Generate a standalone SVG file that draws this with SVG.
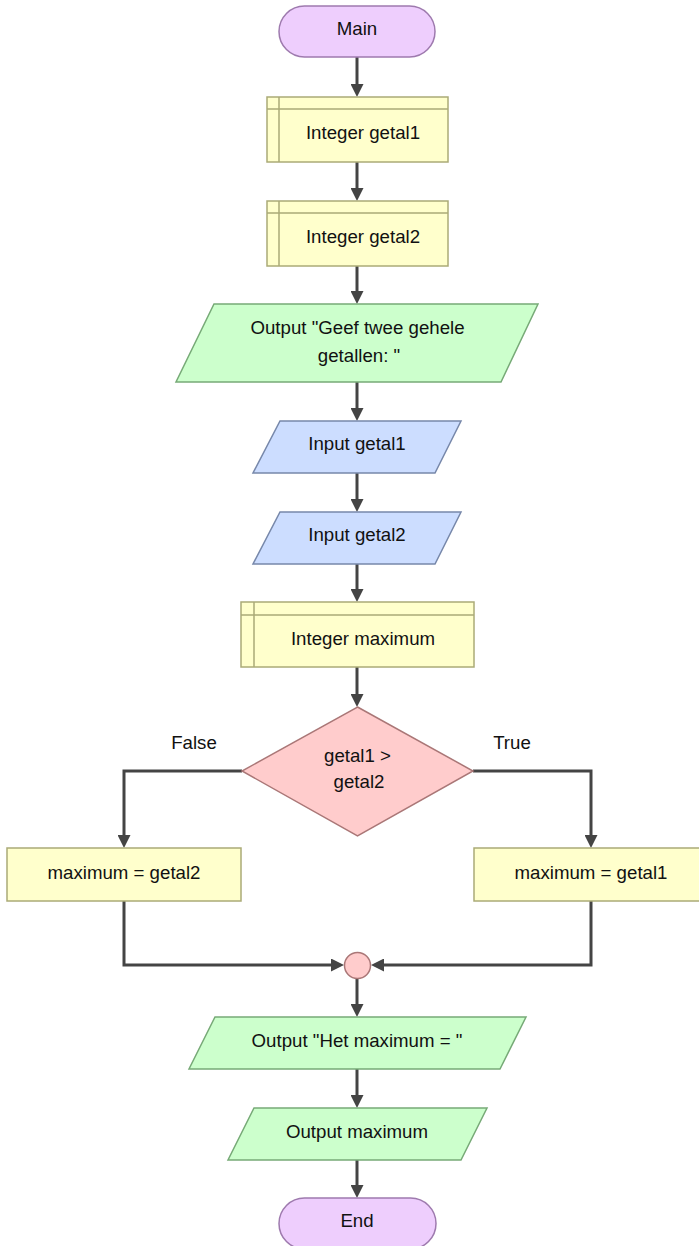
<svg xmlns="http://www.w3.org/2000/svg" width="699" height="1246" viewBox="0 0 699 1246">
<style>
  text { font-family: "Liberation Sans", Arial, sans-serif; font-size: 18.67px; fill: #111; text-anchor: middle; }
  .term { fill: #EECEFD; stroke: #9E7AAE; stroke-width: 1.5; }
  .decl { fill: #FFFFCC; stroke: #ABAB77; stroke-width: 1.5; }
  .assign { fill: #FFFFCC; stroke: #ABAB77; stroke-width: 1.5; }
  .out { fill: #CCFFCC; stroke: #77AA77; stroke-width: 1.5; }
  .in { fill: #CCDDFF; stroke: #7788AA; stroke-width: 1.5; }
  .dec { fill: #FFCCCC; stroke: #AA7777; stroke-width: 1.5; }
  .edge { fill: none; stroke: #444; stroke-width: 3; marker-end: url(#arrow); }
</style>
<defs>
  <marker id="arrow" markerUnits="userSpaceOnUse" viewBox="0 0 13 13" markerWidth="13" markerHeight="13" refX="3" refY="6.5" orient="auto">
    <path d="M0,0 L13,6.5 L0,13 z" fill="#444"/>
  </marker>
</defs>
<rect width="699" height="1246" fill="#fff"/>

<g id="connectors">
  <path class="edge" d="M357,57 V87"/>
  <path class="edge" d="M357,162 V191"/>
  <path class="edge" d="M357,266 V294"/>
  <path class="edge" d="M357,382 V411"/>
  <path class="edge" d="M357,473 V502"/>
  <path class="edge" d="M357,564 V592"/>
  <path class="edge" d="M357,667 V697"/>
  <path class="edge" d="M242,771 H124 V838"/>
  <path class="edge" d="M473,771 H591 V838"/>
  <path class="edge" d="M124,901 V965 H334"/>
  <path class="edge" d="M591,901 V965 H381"/>
  <path class="edge" d="M357,978 V1007"/>
  <path class="edge" d="M357,1069 V1098"/>
  <path class="edge" d="M357,1160 V1188"/>
  <text x="194" y="749">False</text>
  <text x="512" y="749">True</text>
</g>

<g id="main">
  <rect class="term" x="279" y="6" width="156" height="51" rx="25.5"/>
  <text x="357" y="35">Main</text>
</g>

<g id="decl-getal1">
  <rect class="decl" x="267" y="97" width="181" height="65"/>
  <path class="decl" d="M279,97 V162 M267,109 H448" fill="none"/>
  <text x="363" y="139">Integer getal1</text>
</g>

<g id="decl-getal2">
  <rect class="decl" x="267" y="201" width="181" height="65"/>
  <path class="decl" d="M279,201 V266 M267,213 H448" fill="none"/>
  <text x="363" y="243">Integer getal2</text>
</g>

<g id="output-prompt">
  <polygon class="out" points="214,304 538,304 501,382 176,382"/>
  <text x="357.5" y="334">Output "Geef twee gehele</text>
  <text x="359" y="362">getallen: "</text>
</g>

<g id="input-getal1">
  <polygon class="in" points="280,421 461,421 435,473 253,473"/>
  <text x="357" y="450">Input getal1</text>
</g>

<g id="input-getal2">
  <polygon class="in" points="280,512 461,512 435,564 253,564"/>
  <text x="357" y="541">Input getal2</text>
</g>

<g id="decl-maximum">
  <rect class="decl" x="241" y="602" width="233" height="65"/>
  <path class="decl" d="M254,602 V667 M241,615 H474" fill="none"/>
  <text x="363" y="645">Integer maximum</text>
</g>

<g id="decision">
  <polygon class="dec" points="357.5,707 473,771 357.5,836 242,771"/>
  <text x="357.5" y="762">getal1 &gt;</text>
  <text x="359" y="788">getal2</text>
</g>

<g id="assign-false">
  <rect class="assign" x="7" y="848" width="234" height="53"/>
  <text x="124" y="879">maximum = getal2</text>
</g>

<g id="assign-true">
  <rect class="assign" x="474" y="848" width="234" height="53"/>
  <text x="591" y="879">maximum = getal1</text>
</g>

<g id="join">
  <circle class="dec" cx="357.5" cy="965.5" r="13"/>
</g>

<g id="output-het">
  <polygon class="out" points="215,1017 526,1017 500,1069 189,1069"/>
  <text x="357" y="1047">Output "Het maximum = "</text>
</g>

<g id="output-maximum">
  <polygon class="out" points="254,1108 487,1108 461,1160 228,1160"/>
  <text x="357" y="1138">Output maximum</text>
</g>

<g id="end">
  <rect class="term" x="279" y="1198" width="157" height="51" rx="25.5"/>
  <text x="357" y="1227">End</text>
</g>
</svg>
